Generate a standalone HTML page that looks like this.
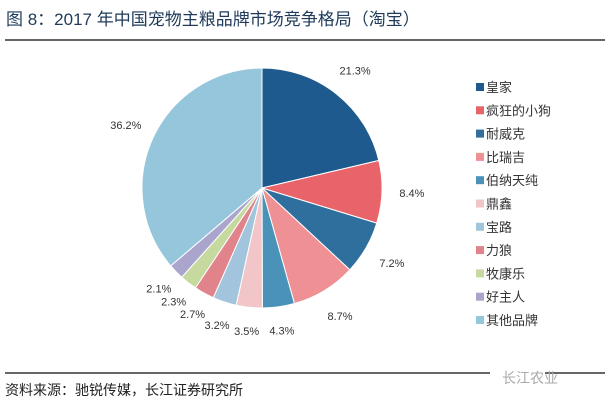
<!DOCTYPE html>
<html><head><meta charset="utf-8"><style>
body{margin:0;background:#fff;width:609px;height:401px;overflow:hidden;font-family:"Liberation Sans","Noto Sans CJK SC",sans-serif}
</style></head><body>
<svg width="609" height="401">
<text x="6" y="25" font-size="17" fill="#1f3a5a" font-family="Liberation Sans, Noto Sans CJK SC, sans-serif">图 8：2017 年中国宠物主粮品牌市场竞争格局（淘宝）</text>
<line x1="5" y1="40" x2="605" y2="40" stroke="#333" stroke-width="1.5"/>
<g id="pie"></g>
<g id="legend"></g>
<line x1="5" y1="373" x2="490" y2="373" stroke="#333" stroke-width="1.5"/>
<line x1="545" y1="373" x2="605" y2="373" stroke="#333" stroke-width="1.5"/>
<text x="502" y="383" font-size="14" fill="#aaa">长江农业</text>
<text x="5" y="395" font-size="14" fill="#222">资料来源：驰锐传媒，长江证券研究所</text>
</svg>
<script>
const categories=["皇家","疯狂的小狗","耐威克","比瑞吉","伯纳天纯","鼎鑫","宝路","力狼","牧康乐","好主人","其他品牌"];
const shares=[21.3,8.4,7.2,8.7,4.3,3.5,3.2,2.7,2.3,2.1,36.2];
const colors=["#1f5a8e","#e8636a","#2e6f9e","#ef9095","#4b92b8","#f2c6c8","#a2c5dd","#e0838a","#c6d99f","#aaa5cd","#95c6dc"];
const NS="http://www.w3.org/2000/svg";
const cx=262,cy=188,r=120;
const pie=document.getElementById('pie'),leg=document.getElementById('legend');
const total=shares.reduce((a,b)=>a+b,0);
let a0=-Math.PI/2;
shares.forEach((v,i)=>{
  const a1=a0+v/total*2*Math.PI;
  const x0=cx+r*Math.cos(a0),y0=cy+r*Math.sin(a0),x1=cx+r*Math.cos(a1),y1=cy+r*Math.sin(a1);
  const p=document.createElementNS(NS,'path');
  p.setAttribute('d',`M${cx},${cy}L${x0},${y0}A${r},${r} 0 ${a1-a0>Math.PI?1:0} 1 ${x1},${y1}Z`);
  p.setAttribute('fill',colors[i]);p.setAttribute('stroke','#fff');p.setAttribute('stroke-width','1');
  
  
  pie.appendChild(p);
  const am=(a0+a1)/2;const lr=v<5?r+24:r+30;
  let lx=cx+lr*Math.cos(am),ly=cy+lr*Math.sin(am)+4;
  const t=document.createElementNS(NS,'text');
  t.setAttribute('x',lx);t.setAttribute('y',ly);t.setAttribute('text-anchor','middle');
  t.setAttribute('font-size','11');t.setAttribute('fill','#333');
  t.textContent=v.toFixed(1)+'%';
  
  
  pie.appendChild(t);
  a0=a1;
  const y=87+i*23.3;
  const s=document.createElementNS(NS,'rect');
  s.setAttribute('x',476);s.setAttribute('y',y-4);s.setAttribute('width',8);s.setAttribute('height',8);s.setAttribute('fill',colors[i]);
  
  
  leg.appendChild(s);
  const lt=document.createElementNS(NS,'text');
  lt.setAttribute('x',486);lt.setAttribute('y',y+5);lt.setAttribute('font-size','13');lt.setAttribute('fill','#333');
  lt.textContent=categories[i];
  
  
  leg.appendChild(lt);
});
</script>
</body></html>
